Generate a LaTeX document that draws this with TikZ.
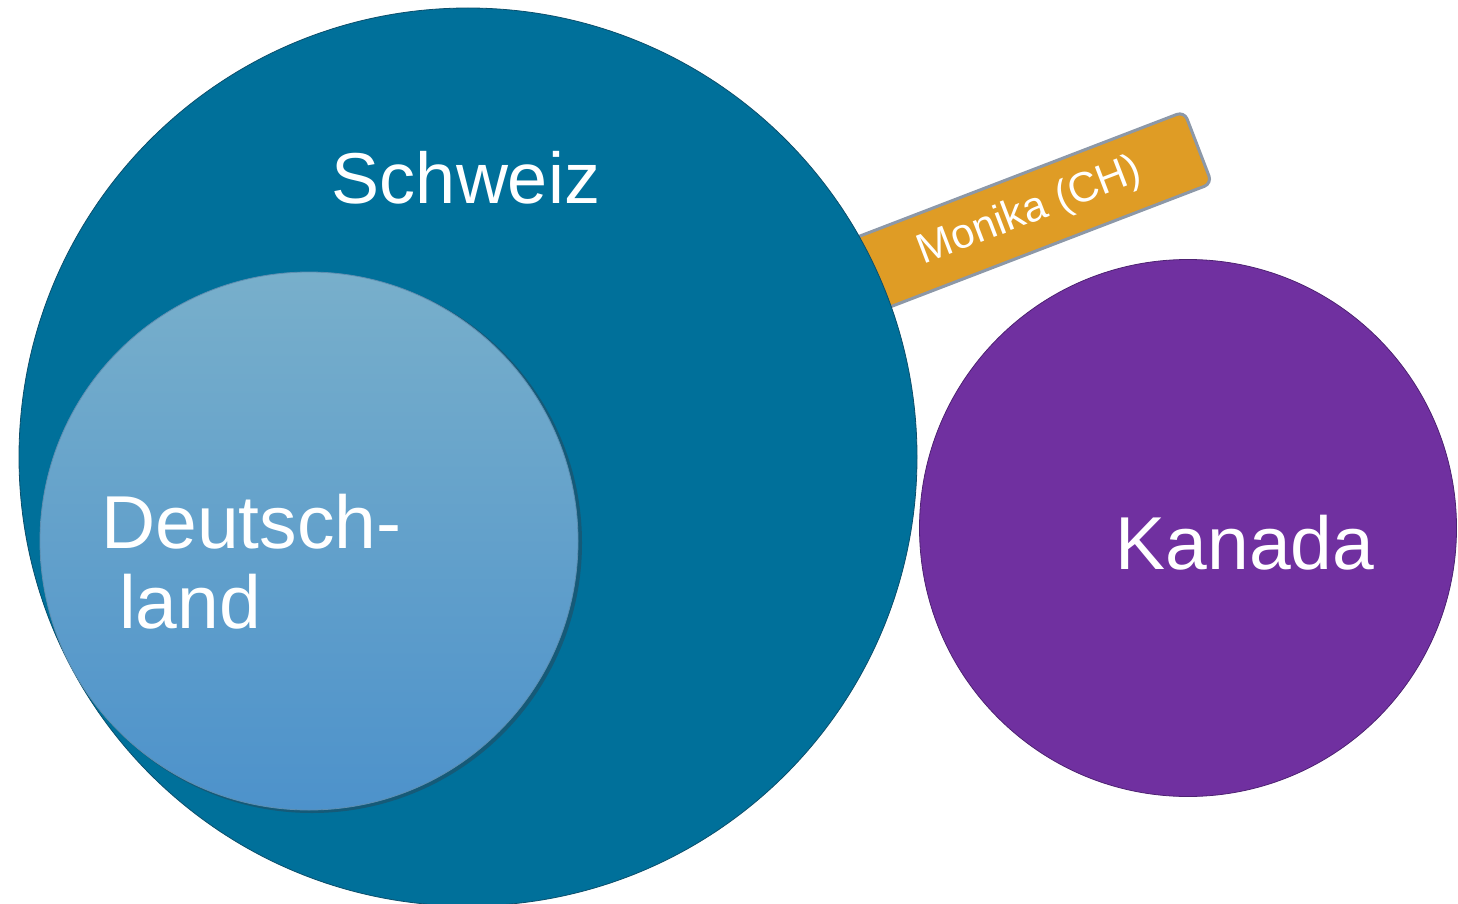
\documentclass[tikz,border=0pt]{standalone}
\usepackage{fontspec}
\setmainfont{Liberation Sans}
\definecolor{swiss}{HTML}{00709A}
\definecolor{swissedge}{HTML}{0B4F6C}
\definecolor{detop}{HTML}{78AFCB}
\definecolor{debot}{HTML}{4D92CB}
\definecolor{deedge}{HTML}{5E8FB2}
\definecolor{deshadow}{HTML}{155A78}
\definecolor{canada}{HTML}{7030A0}
\definecolor{canedge}{HTML}{4E2272}
\definecolor{bar}{HTML}{DF9C25}
\definecolor{baredge}{HTML}{8C98A8}
\tikzset{
  disc/.style={circle, inner sep=0pt, outer sep=0pt},
  bigtext/.style={text=white, inner sep=0pt, font=\fontsize{75}{80}\selectfont},
}
\begin{document}
\begin{tikzpicture}[x=1pt,y=-1pt]
\useasboundingbox (0,0) rectangle (1458,904);
% Monika label bar (behind the Schweiz circle)
\node[rotate=21, fill=bar, draw=baredge, line width=3pt, rounded corners=8pt,
      minimum width=360pt, minimum height=77pt, inner sep=0pt, text=white,
      font=\fontsize{42}{42}\selectfont] (mon) at (1030,212) {Monika (CH)};
% Schweiz
\node[disc, minimum size=898pt, fill=swiss, draw=swissedge, line width=0.8pt] (ch) at (468,457) {};
% Deutschland
\node[disc, minimum size=540pt, fill=deshadow] (deshade) at (312,543) {};
\node[disc, minimum size=538pt, top color=detop, bottom color=debot, draw=deedge, line width=0.8pt] (de) at (309,541) {};
% Kanada
\node[disc, minimum size=537pt, fill=canada, draw=canedge, line width=0.8pt] (ca) at (1188,528) {};
% labels
\node[bigtext, font=\fontsize{72}{80}\selectfont, anchor=base] (tch) at (466,204) {Schweiz};
\node[bigtext, anchor=base] (tca) at (1245,569) {Kanada};
\node[bigtext, anchor=base west, align=left] (tde) at (101,628) {Deutsch-\\\hspace*{18pt}land};
\end{tikzpicture}
\end{document}
